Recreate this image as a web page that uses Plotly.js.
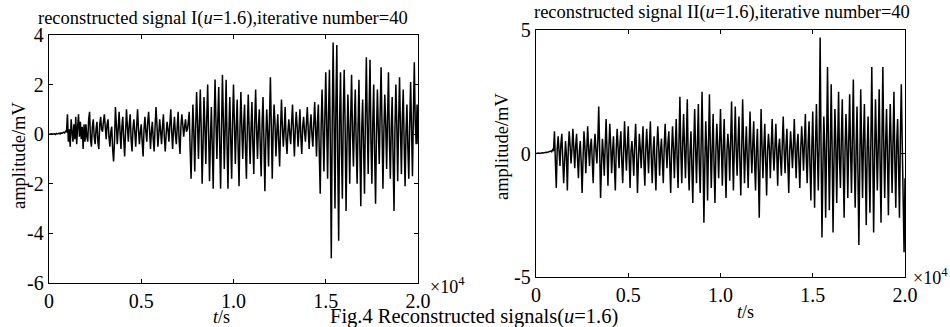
<!DOCTYPE html>
<html>
<head>
<meta charset="utf-8">
<script src="https://cdn.plot.ly/plotly-3.0.1.min.js"></script>
<style>html,body{margin:0;padding:0;background:#fff;}#chart{width:950px;height:327px;}</style>
</head>
<body>
<div id="chart"></div>
<script>
// sampling: one value every 50 s, from t = 0 to t = 20000 s
const sampleStart = 0;
const sampleStep = 50;

// reconstructed signal I (mV), 20 values per 1000 s
const signal1 = [
  0, 0.01, -0.01, 0.02, 0, 0.01, 0.02, -0.01, 0.03, 0.01, 0.02, 0.04, 0.01, 0.05, 0.03, 0.06, 0.08, 0.05, 0.12, 0.1,
  0.8, -0.3, 0.2, -0.5, 0.6, 0.1, -0.3, 0.4, -0.2, 0.7, -0.4, 0.3, 0.8, -0.1, 0.5, -0.2, 0.3, -0.6, 0.4, -0.3,
  0.4, -0.1, -0.3, 0.6, 0.9, -0.2, -0.5, 0.3, 0.6, -0.1, -0.4, 0.2, 0.5, -0.3, -0.6, 0.4, 0.7, 0.2, 0.1, 0.5,
  0.8, 0.3, -0.2, 0.4, 0.6, -0.1, -0.5, 0.1, 0.3, -0.6, -1.1, -0.3, 1.1, 0.4, -0.4, 0.2, 0.9, 0.1, -0.6, 0.3,
  0.7, -0.2, -0.9, 0.1, 1.0, 0.3, -0.3, 0.4, 0.8, -0.2, -0.7, 0.2, 0.6, 0.1, -0.5, 0.3, 1.0, 0.2, -0.4, 0.1,
  0.4, -0.3, -0.9, 0.2, 0.7, 0.1, -0.3, 0.5, 0.9, 0.2, -0.6, 0.1, 0.5, -0.2, -0.7, 0.3, 1.1, 0.4, -0.5, 0.0,
  0.6, 0.1, -0.4, 0.3, 0.8, -0.1, -0.7, 0.0, 0.5, 0.2, -0.3, 0.4, 1.0, 0.1, -0.6, 0.2, 0.7, 0.0, -0.4, 0.3,
  0.9, -0.2, -0.8, 0.3, 0.8, 0.4, -0.1, 0.3, 0.6, 0.1, 0.2, 0.5, 0.9, -0.6, -1.8, -0.2, 1.2, 0.1, -1.5, 0.3,
  1.7, 0.5, -1.0, 0.4, 1.8, 0.2, -2.0, -0.4, 1.5, 0.3, -1.2, 0.6, 2.0, 0.1, -1.9, -0.2, 1.1, -0.5, -2.2, 0.4,
  2.2, 0.5, -1.0, 0.6, 1.9, -0.3, -2.2, 0.2, 2.4, 0.6, -1.4, 0.3, 2.2, -0.4, -2.2, 0.1, 1.5, -0.2, -1.8, 0.5,
  2.0, 0.4, -1.2, 0.3, 1.4, -0.5, -2.1, 0.2, 1.7, 0.3, -1.0, 0.4, 1.2, -0.6, -1.8, 0.3, 1.6, 0.1, -1.2, 0.2,
  1.3, -0.4, -1.6, 0.5, 1.8, 0.2, -1.0, 0.3, 1.0, -0.5, -1.7, 0.4, 1.5, -0.3, -2.3, -0.2, 1.0, 0.1, -1.3, 0.6,
  2.3, 0.3, -1.8, 0.2, 1.2, 0.4, -0.9, 0.1, 0.8, -0.3, -1.3, 0.2, 1.4, 0.3, -0.5, 0.2, 1.1, -0.2, -0.8, 0.1,
  0.6, 0.0, -0.4, 0.5, 1.2, 0.1, -0.9, 0.2, 0.9, 0.3, -0.5, 0.2, 1.0, -0.1, -0.8, 0.3, 0.7, 0.1, -0.3, 0.4,
  1.1, 0.2, -0.6, 0.3, 0.8, 0.0, -0.5, 0.4, 1.3, 0.2, -0.9, 0.5, 1.2, -0.8, -2.4, 0.3, 1.8, 0.2, -1.5, 0.6,
  2.5, 0.4, -1.8, 0.8, 2.6, -0.5, -5.0, 0.4, 3.7, 0.6, -3.0, 1.2, 3.6, -1.0, -4.3, 0.5, 2.5, -0.6, -2.6, 0.8,
  2.6, 0.3, -3.1, -0.4, 1.6, 0.2, -2.0, 0.6, 2.4, 0.1, -1.3, 0.5, 1.8, -0.4, -2.0, 0.3, 2.2, -0.6, -2.9, 0.2,
  1.4, -0.5, -2.4, 0.7, 3.1, 0.4, -1.6, 1.0, 3.0, -0.3, -2.0, 0.5, 2.0, -0.8, -2.8, 0.1, 1.8, 0.2, -1.2, 0.9,
  2.7, 0.3, -2.2, 0.1, 1.6, 0.4, -1.4, 0.7, 2.5, -0.2, -1.8, 0.3, 1.5, -1.0, -3.1, 0.2, 2.0, 0.4, -1.9, 0.5,
  2.3, 0.2, -1.6, 0.6, 1.8, -0.4, -2.1, 0.1, 1.2, -0.5, -1.8, 0.4, 2.1, 0.2, -1.7, 0.8, 2.9, 0.5, -0.4, 1.2,
  -0.4
];

// reconstructed signal II (mV), 20 values per 1000 s
const signal2 = [
  0, 0.01, -0.01, 0.02, 0, 0.02, 0.01, 0.03, 0.02, 0.04, 0.03, 0.05, 0.04, 0.06, 0.05, 0.08, 0.1, 0.07, 0.15, 0.1,
  0.9, -0.3, -1.4, 0.2, 0.7, 0.1, -0.5, 0.4, 0.8, -0.2, -1.2, -0.3, 0.5, -0.1, -1.5, 0.2, 0.9, 0.3, -0.4, 0.2,
  1.0, 0.2, -0.6, 0.3, 0.8, -0.2, -1.0, 0.1, 0.5, -0.4, -1.6, -0.2, 0.9, 0.3, -0.8, 0.1, 1.1, 0.2, -0.5, 0.3,
  0.6, -0.3, -1.2, 0.2, 0.8, 0.1, -0.4, 0.5, 1.9, 0.2, -1.8, -0.5, 0.6, 0.0, -0.9, 0.3, 1.4, 0.1, -1.3, 0.2,
  1.2, 0.3, -0.8, 0.1, 0.7, -0.5, -1.5, 0.2, 1.0, 0.2, -0.6, 0.4, 0.9, -0.3, -1.2, 0.1, 1.3, 0.2, -0.7, 0.3,
  1.1, -0.2, -1.4, 0.1, 0.5, -0.1, -0.9, 0.4, 1.2, 0.0, -1.6, -0.3, 0.8, 0.2, -0.6, 0.3, 1.1, -0.4, -1.3, 0.2,
  1.0, 0.1, -0.8, 0.4, 1.3, -0.2, -1.2, 0.1, 0.7, -0.5, -1.5, 0.2, 1.1, 0.3, -0.9, 0.1, 0.6, -0.3, -1.2, 0.3,
  1.2, 0.2, -0.6, 0.4, 0.9, -0.4, -1.6, 0.1, 1.1, 0.2, -1.0, 0.3, 1.4, -0.2, -1.4, 0.5, 2.3, 0.1, -1.2, 0.4,
  1.6, 0.2, -1.0, 0.5, 2.2, -0.3, -1.5, 0.1, 0.9, -0.6, -2.0, 0.3, 1.8, 0.2, -1.2, 0.4, 2.0, -0.4, -1.6, 0.3,
  2.5, 0.1, -2.8, -0.5, 1.3, 0.2, -1.9, 0.4, 2.4, 0.3, -1.4, 0.2, 1.6, -0.5, -2.0, 0.1, 1.2, 0.3, -1.0, 0.4,
  1.8, 0.2, -1.3, 0.3, 1.4, -0.4, -1.8, 0.1, 0.8, 0.2, -1.1, 0.5, 2.1, 0.1, -1.5, 0.3, 1.9, 0.2, -0.9, 0.4,
  1.5, -0.3, -1.7, 0.2, 2.2, 0.4, -1.2, 0.1, 1.1, -0.2, -1.4, 0.3, 1.7, 0.2, -0.8, 0.4, 1.3, -0.4, -1.5, 0.2,
  1.0, -0.6, -2.6, -0.2, 1.8, 0.3, -1.0, 0.2, 1.2, -0.3, -1.7, 0.1, 0.8, 0.2, -1.0, 0.3, 1.4, 0.1, -0.7, 0.2,
  1.2, 0.0, -1.3, 0.2, 0.6, -0.2, -0.9, 0.4, 1.5, 0.1, -0.8, 0.3, 1.0, -0.4, -1.6, 0.1, 0.9, 0.2, -0.6, 0.3,
  1.4, 0.1, -1.0, 0.3, 0.8, -0.3, -1.4, 0.2, 1.1, 0.3, -0.7, 0.5, 1.6, -0.2, -1.2, 0.4, 1.3, -0.5, -1.9, 0.2,
  1.7, -0.3, -2.2, 0.4, 2.0, 0.1, -1.5, 0.5, 4.7, 0.3, -3.4, -0.6, 1.5, 0.2, -2.6, 0.4, 3.5, 0.5, -2.3, 0.1,
  2.8, 0.2, -3.2, -0.3, 1.8, 0.4, -2.0, 0.3, 2.5, -0.2, -1.4, 0.6, 2.2, -0.4, -2.6, 0.1, 1.6, 0.3, -1.8, 0.5,
  2.4, 0.1, -1.6, 0.7, 3.0, -0.3, -2.2, 0.2, 1.9, -0.8, -3.7, -0.4, 2.6, 0.3, -1.8, 0.6, 2.0, -0.5, -2.9, 0.2,
  1.5, -0.4, -2.4, 0.5, 3.5, 0.2, -3.2, -0.2, 2.2, 0.4, -1.5, 0.3, 2.6, -0.3, -2.8, 0.5, 3.5, 0.3, -1.8, 0.4,
  1.8, -0.2, -2.5, 0.3, 2.0, 0.2, -1.6, 0.5, 2.5, -0.3, -2.2, 0.4, 1.4, -0.5, -2.6, 0.7, 2.8, 0.4, -1.2, -4.0,
  -1.0
];

const xTickVals = [0, 5000, 10000, 15000, 20000];
const xTickText = ["0", "0.5", "1.0", "1.5", "2.0"];
const y1TickVals = [-6, -4, -2, 0, 2, 4];
const y1TickText = ["-6", "-4", "-2", "0", "2", "4"];
const y2TickVals = [-5, 0, 5];
const y2TickText = ["-5", "0", "5"];

const W = 950, H = 327;
const px = v => v / W;
const py = v => 1 - v / H;
const FONT = "Liberation Serif";

const traces = [
  {x0: sampleStart, dx: sampleStep, y: signal1, type: "scatter", mode: "lines",
   line: {color: "#000", width: 1.5}, xaxis: "x", yaxis: "y", hoverinfo: "none"},
  {x0: sampleStart, dx: sampleStep, y: signal2, type: "scatter", mode: "lines",
   line: {color: "#000", width: 1.5}, xaxis: "x2", yaxis: "y2", hoverinfo: "none"}
];

function axis(extra) {
  return Object.assign({
    showline: true, linecolor: "#000", linewidth: 1.3, mirror: "allticks",
    ticks: "inside", ticklen: 4, tickcolor: "#000", tickwidth: 1,
    showgrid: false, zeroline: false, tickmode: "array",
    tickfont: {family: FONT, size: 20, color: "#000"}
  }, extra);
}

const layout = {
  width: W, height: H,
  margin: {l: 0, r: 0, t: 0, b: 0},
  paper_bgcolor: "#fff", plot_bgcolor: "#fff",
  showlegend: false,
  font: {family: FONT, color: "#000", size: 20},
  xaxis: axis({domain: [px(49), px(418)], range: [0, 20000],
    tickvals: xTickVals, ticktext: xTickText, anchor: "y"}),
  yaxis: axis({domain: [py(283), py(35)], range: [-6, 4],
    tickvals: y1TickVals, ticktext: y1TickText, anchor: "x"}),
  xaxis2: axis({domain: [px(536), px(905)], range: [0, 20000],
    tickvals: xTickVals, ticktext: xTickText, anchor: "y2"}),
  yaxis2: axis({domain: [py(277), py(30)], range: [-5, 5],
    tickvals: y2TickVals, ticktext: y2TickText, anchor: "x2"}),
  annotations: [
    {text: "reconstructed signal I(<i>u</i>=1.6),iterative number=40", x: px(223), y: py(18),
     xref: "paper", yref: "paper", showarrow: false, xanchor: "center", yanchor: "middle",
     font: {family: FONT, size: 18.5, color: "#000"}},
    {text: "reconstructed signal II(<i>u</i>=1.6),iterative number=40", x: px(722), y: py(12),
     xref: "paper", yref: "paper", showarrow: false, xanchor: "center", yanchor: "middle",
     font: {family: FONT, size: 18.5, color: "#000"}},
    {text: "amplitude/mV", textangle: -90, x: px(19), y: py(155),
     xref: "paper", yref: "paper", showarrow: false, xanchor: "center", yanchor: "middle",
     font: {family: FONT, size: 18.5, color: "#000"}},
    {text: "amplitude/mV", textangle: -90, x: px(502), y: py(146),
     xref: "paper", yref: "paper", showarrow: false, xanchor: "center", yanchor: "middle",
     font: {family: FONT, size: 18.5, color: "#000"}},
    {text: "<i>t</i>/s", x: px(221), y: py(317),
     xref: "paper", yref: "paper", showarrow: false, xanchor: "center", yanchor: "middle",
     font: {family: FONT, size: 18, color: "#000"}},
    {text: "<i>t</i>/s", x: px(745), y: py(312),
     xref: "paper", yref: "paper", showarrow: false, xanchor: "center", yanchor: "middle",
     font: {family: FONT, size: 18, color: "#000"}},
    {text: "×10<sup>4</sup>", x: px(428), y: py(285),
     xref: "paper", yref: "paper", showarrow: false, xanchor: "left", yanchor: "middle",
     font: {family: FONT, size: 18, color: "#000"}},
    {text: "×10<sup>4</sup>", x: px(911), y: py(276),
     xref: "paper", yref: "paper", showarrow: false, xanchor: "left", yanchor: "middle",
     font: {family: FONT, size: 18, color: "#000"}},
    {text: "Fig.4 Reconstructed signals(<i>u</i>=1.6)", x: px(474), y: py(316),
     xref: "paper", yref: "paper", showarrow: false, xanchor: "center", yanchor: "middle",
     font: {family: FONT, size: 20.5, color: "#000"}}
  ]
};

Plotly.newPlot("chart", traces, layout, {staticPlot: true, displayModeBar: false});
</script>
</body>
</html>
